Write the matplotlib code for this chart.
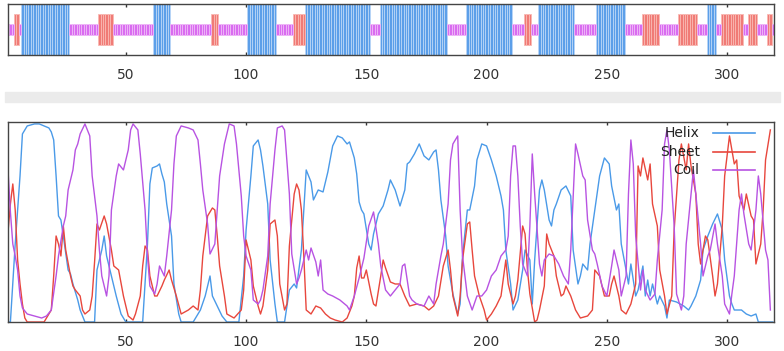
import numpy as np
import matplotlib
matplotlib.use('Agg')
import matplotlib.pyplot as plt

# secondary structure per residue, as runs (H = helix, E = sheet, C = coil)
seg_states = ['C', 'E', 'C', 'H', 'C', 'E', 'C', 'H', 'C', 'E', 'C', 'H', 'C', 'E', 'H', 'C', 'H', 'C', 'H',
              'C', 'E', 'C', 'H', 'C', 'H', 'C', 'E', 'C', 'E', 'C', 'H', 'C', 'E', 'C', 'E', 'C', 'E', 'C']
seg_lengths = [3, 2, 1, 20, 12, 6, 17, 7, 17, 3, 12, 12, 7, 5, 27, 4, 28, 8, 19,
               5, 3, 3, 15, 9, 12, 7, 7, 8, 8, 4, 4, 2, 9, 2, 4, 4, 2, 1]

# probability curves (residue, value)
helix_res = [1, 2, 4, 6, 7, 9, 12, 14, 16, 18, 19, 20, 21, 22, 23, 24, 26, 27, 28, 30, 31, 33, 37, 38, 40, 41, 42, 44, 46, 48, 50,
             57, 59, 60, 61, 63, 64, 65, 66, 67, 69, 70, 72, 73, 78, 81, 83, 85, 86, 88, 90, 92, 97, 99, 100, 102, 103, 105,
             106, 107, 109, 110, 112, 113, 116, 118, 120, 121, 123, 124, 125, 127, 128, 130, 132, 134, 136, 138, 140, 142,
             143, 145, 146, 147, 148, 149, 151, 152, 153, 155, 157, 159, 160, 162, 164, 166, 167, 168, 170, 172, 174, 176,
             178, 179, 180, 181, 183, 184, 186, 188, 189, 190, 192, 193, 195, 196, 198, 200, 202, 204, 206, 207, 208, 210,
             211, 213, 215, 216, 218, 219, 220, 222, 223, 224, 226, 227, 228, 229, 231, 233, 235, 236, 238, 239, 240, 242,
             243, 245, 247, 249, 251, 252, 254, 255, 256, 258, 259, 260, 262, 263, 265, 266, 267, 268, 269, 271, 272, 274,
             275, 276, 279, 282, 284, 285, 287, 289, 290, 292, 294, 296, 298, 299, 301, 302, 303, 306, 308, 310, 312, 313, 319]
helix_val = [0.0, 0.0, 0.39, 0.73, 0.94, 0.98, 0.99, 0.99, 0.98, 0.97, 0.95, 0.91, 0.73, 0.53, 0.51, 0.43, 0.26, 0.24, 0.19,
             0.11, 0.06, 0.0, 0.0, 0.26, 0.36, 0.43, 0.33, 0.23, 0.13, 0.04, 0.0,
             0.0, 0.39, 0.69, 0.77, 0.78, 0.79, 0.74, 0.70, 0.59, 0.43, 0.19, 0.04, 0.0, 0.0, 0.06, 0.13, 0.23, 0.13, 0.08,
             0.03, 0.0, 0.0, 0.23, 0.46, 0.73, 0.88, 0.91,
             0.86, 0.78, 0.59, 0.31, 0.09, 0.0, 0.0, 0.16, 0.19, 0.17, 0.36, 0.56, 0.76, 0.70, 0.61, 0.66, 0.65, 0.75, 0.88,
             0.93, 0.92, 0.89,
             0.90, 0.82, 0.74, 0.60, 0.56, 0.54, 0.39, 0.36, 0.44, 0.54, 0.58, 0.66, 0.71, 0.66, 0.58, 0.66, 0.79, 0.80,
             0.84, 0.89, 0.83, 0.81,
             0.85, 0.86, 0.76, 0.61, 0.43, 0.28, 0.14, 0.04, 0.09, 0.33, 0.56, 0.56, 0.68, 0.81, 0.89, 0.88, 0.81, 0.73,
             0.63, 0.56, 0.36, 0.19,
             0.06, 0.11, 0.26, 0.36, 0.31, 0.09, 0.31, 0.66, 0.71, 0.66, 0.51, 0.48, 0.56, 0.59, 0.66, 0.68, 0.63, 0.36,
             0.19, 0.23, 0.29, 0.26,
             0.39, 0.56, 0.73, 0.82, 0.79, 0.68, 0.56, 0.59, 0.39, 0.26, 0.19, 0.29, 0.13, 0.16, 0.28, 0.13, 0.21, 0.13,
             0.19, 0.09, 0.13, 0.08,
             0.02, 0.11, 0.10, 0.08, 0.06, 0.08, 0.13, 0.21, 0.36, 0.43, 0.49, 0.54, 0.46, 0.31, 0.13, 0.09, 0.06, 0.06,
             0.04, 0.03, 0.04, 0.0, 0.0]

sheet_res = [1, 2, 3, 4, 5, 6, 7, 8, 9, 16, 19, 20, 21, 22, 23, 24, 25, 27, 28, 29, 31, 32, 33, 35, 36, 37, 38, 39, 41, 42,
             44, 45, 47, 49, 51, 53, 54, 56, 57, 58, 59, 60, 62, 63, 65, 66, 68, 69, 71, 73, 76, 78, 80, 81, 82, 84, 86,
             87, 88, 89, 91, 92, 95, 98, 99, 100, 102, 103, 105, 106, 107, 109, 110, 112, 113, 114, 116, 117, 118, 120,
             121, 122, 123, 124, 125, 127, 129, 131, 133, 135, 137, 140, 142, 144, 145, 146, 147, 148, 149, 150, 152, 153,
             154, 156, 157, 158, 160, 162, 164, 166, 168, 171, 174, 176, 178, 180, 182, 184, 185, 186, 188, 189, 190, 192,
             193, 194, 195, 197, 199, 200, 202, 204, 206, 208, 209, 211, 212, 213, 215, 216, 217, 218, 220, 221, 222, 224,
             225, 226, 228, 229, 231, 232, 233, 235, 237, 239, 242, 244, 245, 247, 248, 249, 251, 252, 253, 255, 256, 258,
             260, 262, 263, 264, 265, 267, 268, 269, 271, 272, 274, 275, 277, 278, 280, 281, 283, 284, 285, 287, 288, 289,
             291, 292, 294, 295, 296, 298, 299, 300, 301, 303, 304, 305, 307, 308, 310, 311, 312, 314, 315, 316, 318]
sheet_val = [0.45, 0.59, 0.69, 0.56, 0.31, 0.19, 0.09, 0.02, 0.0, 0.0, 0.06, 0.23, 0.43, 0.39, 0.33, 0.48, 0.36, 0.23, 0.18,
             0.16, 0.13, 0.06, 0.04, 0.06, 0.13, 0.30, 0.49, 0.46, 0.53, 0.49,
             0.36, 0.28, 0.26, 0.13, 0.03, 0.01, 0.04, 0.13, 0.28, 0.38, 0.36, 0.23, 0.13, 0.13, 0.18, 0.21, 0.26, 0.21,
             0.13, 0.04, 0.06, 0.08, 0.06, 0.16, 0.33, 0.53, 0.57,
             0.56, 0.43, 0.28, 0.13, 0.04, 0.02, 0.06, 0.16, 0.41, 0.31, 0.18, 0.08, 0.04, 0.08, 0.26, 0.49, 0.51, 0.43,
             0.19, 0.06, 0.09, 0.38, 0.64,
             0.69, 0.66, 0.56, 0.33, 0.06, 0.04, 0.08, 0.07, 0.04, 0.02, 0.01, 0.0, 0.02, 0.08, 0.13, 0.27, 0.33, 0.22,
             0.22, 0.26, 0.14, 0.09,
             0.08, 0.23, 0.31, 0.27, 0.20, 0.19, 0.19, 0.13, 0.08, 0.09, 0.08, 0.06, 0.08, 0.13, 0.28, 0.36, 0.26, 0.13,
             0.03, 0.13, 0.31, 0.49,
             0.50, 0.36, 0.23, 0.13, 0.06, 0.01, 0.04, 0.08, 0.13, 0.31, 0.19, 0.09, 0.13, 0.21, 0.48, 0.44, 0.26, 0.14,
             0.0, 0.01, 0.06, 0.18,
             0.44, 0.39, 0.33, 0.23, 0.13, 0.14, 0.18, 0.13, 0.06, 0.02, 0.03, 0.06, 0.26, 0.23, 0.18, 0.13, 0.13, 0.19,
             0.23, 0.13, 0.06, 0.04,
             0.09, 0.19, 0.78, 0.73, 0.82, 0.71, 0.79, 0.59, 0.48, 0.26, 0.13, 0.04, 0.13, 0.46, 0.81, 0.89, 0.76, 0.89,
             0.78, 0.64, 0.39, 0.29,
             0.43, 0.41, 0.23, 0.13, 0.19, 0.48, 0.73, 0.83, 0.93, 0.79, 0.81, 0.63, 0.56, 0.64, 0.53, 0.51, 0.29, 0.39,
             0.56, 0.81, 0.96]

coil_res = [1, 2, 3, 4, 5, 6, 7, 9, 12, 15, 17, 19, 21, 22, 24, 25, 26, 28, 29, 30, 31, 33, 34, 35, 36, 38, 39, 40, 42, 43,
            44, 46, 47, 49, 51, 52, 53, 55, 56, 58, 59, 60, 62, 63, 64, 66, 67, 69, 70, 71, 73, 76, 78, 80, 81, 82, 84,
            85, 87, 88, 89, 91, 93, 95, 96, 98, 99, 100, 102, 103, 105, 106, 107, 109, 110, 112, 113, 115, 116, 118, 119,
            121, 122, 123, 125, 126, 127, 129, 130, 131, 132, 134, 136, 139, 142, 143, 145, 147, 149, 151, 153, 155, 156,
            158, 160, 162, 164, 165, 166, 168, 169, 171, 174, 176, 178, 179, 181, 182, 184, 185, 186, 188, 189, 190, 191,
            192, 194, 196, 198, 200, 202, 204, 206, 208, 209, 210, 211, 212, 213, 214, 215, 217, 218, 219, 220, 222, 223,
            224, 226, 228, 230, 232, 234, 235, 237, 238, 240, 241, 242, 244, 245, 246, 248, 250, 252, 253, 255, 256, 258,
            259, 260, 261, 262, 264, 265, 266, 268, 270, 271, 273, 274, 275, 276, 278, 279, 281, 282, 283, 285, 286, 287,
            289, 290, 292, 293, 295, 296, 298, 299, 301, 302, 303, 305, 306, 307, 309, 310, 312, 313, 314, 316, 317, 318]
coil_val = [0.76, 0.55, 0.39, 0.33, 0.26, 0.13, 0.07, 0.04, 0.03, 0.02, 0.03, 0.06, 0.23, 0.33, 0.48, 0.53, 0.66, 0.76,
            0.86, 0.89, 0.94, 0.99, 0.96, 0.93, 0.73, 0.53, 0.36, 0.23, 0.13, 0.23,
            0.56, 0.73, 0.79, 0.76, 0.86, 0.96, 0.99, 0.96, 0.84, 0.56, 0.33, 0.18, 0.14, 0.19, 0.28, 0.23, 0.33, 0.56,
            0.79, 0.93, 0.98, 0.97, 0.96, 0.91, 0.79, 0.66, 0.49,
            0.34, 0.39, 0.56, 0.73, 0.89, 0.99, 0.98, 0.89, 0.63, 0.43, 0.33, 0.26, 0.11, 0.09, 0.11, 0.16, 0.33, 0.59,
            0.86, 0.97, 0.98, 0.96, 0.64, 0.34,
            0.19, 0.22, 0.26, 0.36, 0.31, 0.37, 0.30, 0.23, 0.31, 0.16, 0.14, 0.13, 0.11, 0.08, 0.06, 0.13, 0.22, 0.32,
            0.48, 0.55, 0.39, 0.28,
            0.16, 0.13, 0.16, 0.19, 0.28, 0.29, 0.13, 0.11, 0.09, 0.08, 0.13, 0.09, 0.19, 0.33, 0.39, 0.59, 0.81, 0.89,
            0.93, 0.56, 0.33, 0.23,
            0.13, 0.06, 0.13, 0.13, 0.16, 0.23, 0.26, 0.33, 0.36, 0.43, 0.73, 0.88, 0.88, 0.73, 0.48, 0.29, 0.23, 0.48,
            0.84, 0.64, 0.29, 0.23,
            0.31, 0.34, 0.33, 0.29, 0.23, 0.19, 0.36, 0.89, 0.84, 0.73, 0.71, 0.51, 0.36, 0.34, 0.29, 0.18, 0.13, 0.28,
            0.36, 0.26, 0.13, 0.23,
            0.64, 0.91, 0.79, 0.43, 0.16, 0.26, 0.16, 0.11, 0.14, 0.31, 0.56, 0.89, 0.96, 0.86, 0.48, 0.14, 0.06, 0.13,
            0.39, 0.64, 0.76, 0.64,
            0.39, 0.23, 0.33, 0.36, 0.49, 0.39, 0.23, 0.09, 0.04, 0.14, 0.23, 0.56, 0.64, 0.54, 0.39, 0.36, 0.56, 0.73,
            0.64, 0.36, 0.31, 0.06]

tick_pos = [50, 100, 150, 200, 250, 300]

helix_c = '#4a9ae8'
sheet_c = '#e8473d'
coil_c = '#b853e2'

# expand runs to per-residue states
states = []
for s, n in zip(seg_states, seg_lengths):
    states += [s] * n
residues = np.arange(1, len(states) + 1)
states = np.array(states)

fig = plt.figure(figsize=(7.84, 3.51), dpi=100)

# top panel: bars per residue
ax1 = fig.add_axes([0.0102, 0.843, 0.977, 0.146])
ax1.axhline(0, color='#eaa6f2', lw=0.6, zorder=1)
bar_style = {'H': (1.0, '#5c9fe9', '#b9d6f7'),
             'E': (0.62, '#f07b76', '#f9b9b3'),
             'C': (0.22, '#d96cf0', '#efb8f7')}
for s, (h, fc, ec) in bar_style.items():
    m = states == s
    ax1.bar(residues[m], 2 * h, bottom=-h, width=1.0, color=fc, edgecolor=ec, linewidth=0.6, zorder=2)
ax1.set_ylim(-1, 1)
ax1.set_xlim(1, 319.5)
ax1.set_yticks([])

# gray separator band
fig.patches.append(plt.Rectangle((0.006, 0.709), 0.989, 0.029, transform=fig.transFigure,
                                 color='#ebebeb', zorder=0))

# bottom panel: probability curves
ax2 = fig.add_axes([0.0102, 0.0826, 0.977, 0.570])
ax2.plot(helix_res, helix_val, color=helix_c, lw=1.0)
ax2.plot(sheet_res, sheet_val, color=sheet_c, lw=1.0)
ax2.plot(coil_res, coil_val, color=coil_c, lw=1.0)
ax2.set_ylim(0, 1)
ax2.set_xlim(1, 319.5)
ax2.set_yticks([])

# legend, right-aligned labels with line samples
for i, (lab, c) in enumerate([('Helix', helix_c), ('Sheet', sheet_c), ('Coil', coil_c)]):
    yy = 0.945 - i * 0.093
    ax2.text(0.903, yy, lab, transform=ax2.transAxes, ha='right', va='center', fontsize=10, color='#222222')
    ax2.plot([0.920, 0.975], [yy, yy], transform=ax2.transAxes, color=c, lw=1.2)

for ax in (ax1, ax2):
    ax.set_xticks(tick_pos)
    ax.tick_params(axis='x', direction='in', length=2.5, width=1, color='#333333',
                   top=True, labelsize=10, labelcolor='#333333', pad=9)
    for sp in ax.spines.values():
        sp.set_color('#444444')
        sp.set_linewidth(1.0)

plt.savefig('out.png', dpi=100)
